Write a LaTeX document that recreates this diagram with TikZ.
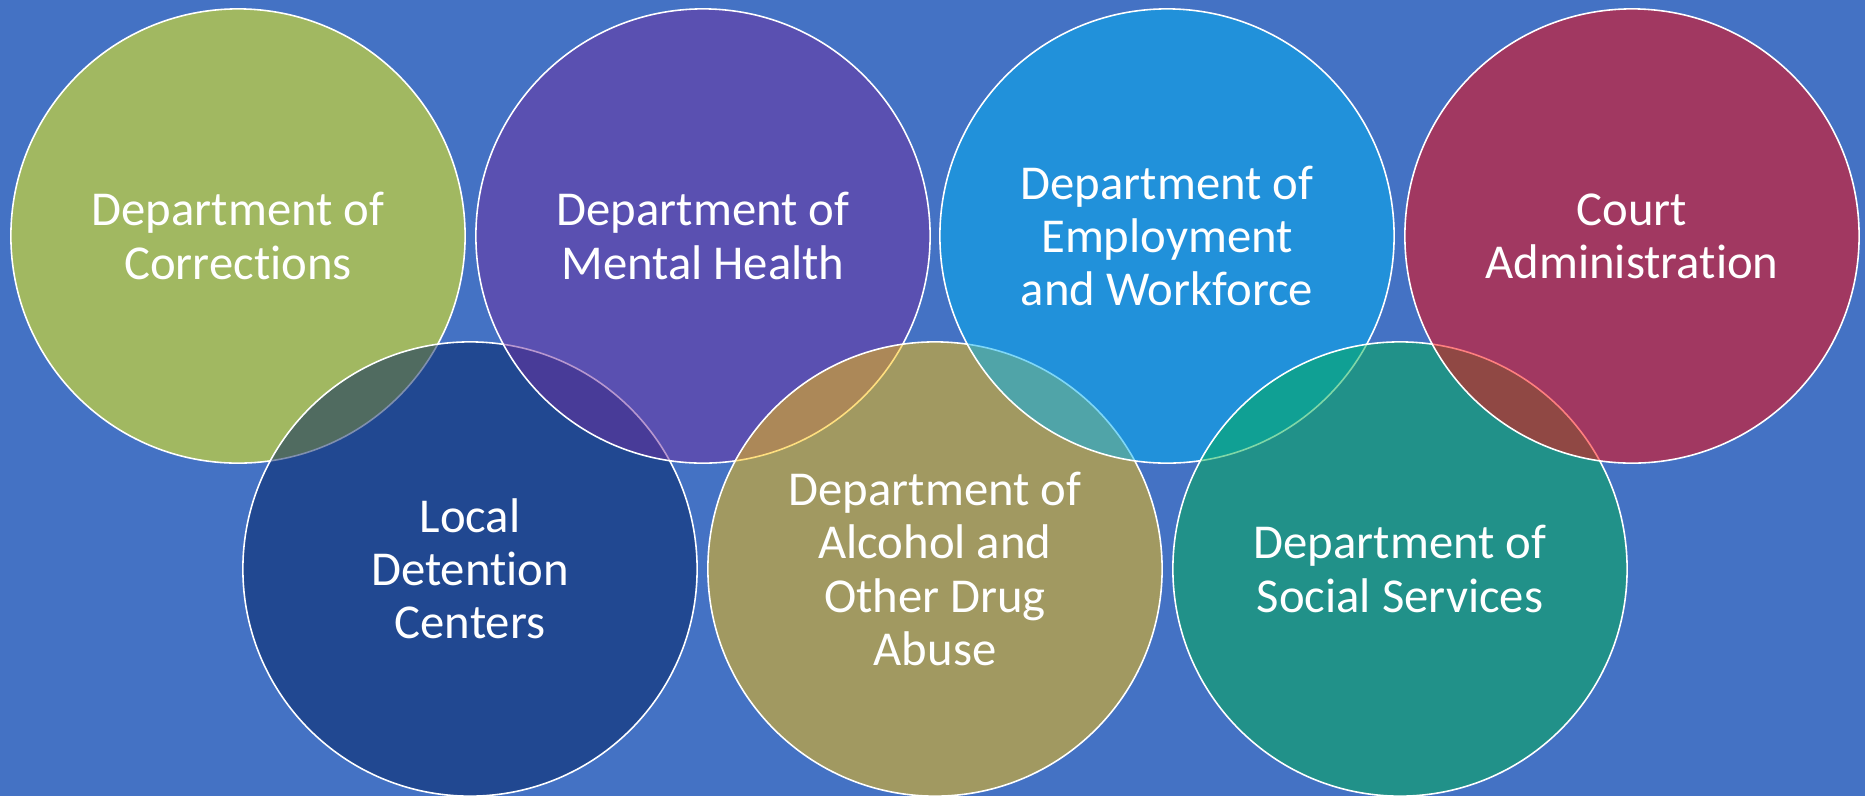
\documentclass[tikz,border=0pt]{standalone}
\usepackage{fontspec}
\setmainfont[Ligatures={NoCommon}]{Carlito}
\definecolor{slide}{HTML}{4472C4}
\definecolor{cYellow}{HTML}{FFFF00}
\definecolor{cDarkBlue}{HTML}{002060}
\definecolor{cPurple}{HTML}{7030A0}
\definecolor{cGold}{HTML}{FFC000}
\definecolor{cLightBlue}{HTML}{00B0F0}
\definecolor{cGreen}{HTML}{00B050}
\definecolor{cRed}{HTML}{FF0000}
\begin{document}
\begin{tikzpicture}[x=0.01cm,y=-0.01cm,
  agency/.style={circle, minimum size=4.54cm, inner sep=0pt,
    draw=white, line width=0.45pt, fill opacity=0.5, text opacity=1,
    draw opacity=1, text=white, align=center,
    font=\fontsize{13.85}{15.1}\selectfont}]
  % slide background
  \fill[slide] (0,0) rectangle (1865,796);
  \useasboundingbox (0,0) rectangle (1865,796);
  % circles, stacked left to right in zig-zag order
  \node[agency, fill=cYellow]    (doc)   at (238,236) {Department of\\Corrections};
  \node[agency, fill=cDarkBlue]  (ldc)   at (470,569) {Local\\Detention\\Centers};
  \node[agency, fill=cPurple]    (dmh)   at (703,236) {Department of\\Mental Health};
  \node[agency, fill=cGold]      (daoda) at (935,569) {Department of\\Alcohol and\\Other Drug\\Abuse};
  \node[agency, fill=cLightBlue] (dew)   at (1167,236) {Department of\\Employment\\and Workforce};
  \node[agency, fill=cGreen]     (dss)   at (1400,569) {Department of\\Social Services};
  \node[agency, fill=cRed]       (court) at (1632,236) {Court\\Administration};
\end{tikzpicture}
\end{document}
